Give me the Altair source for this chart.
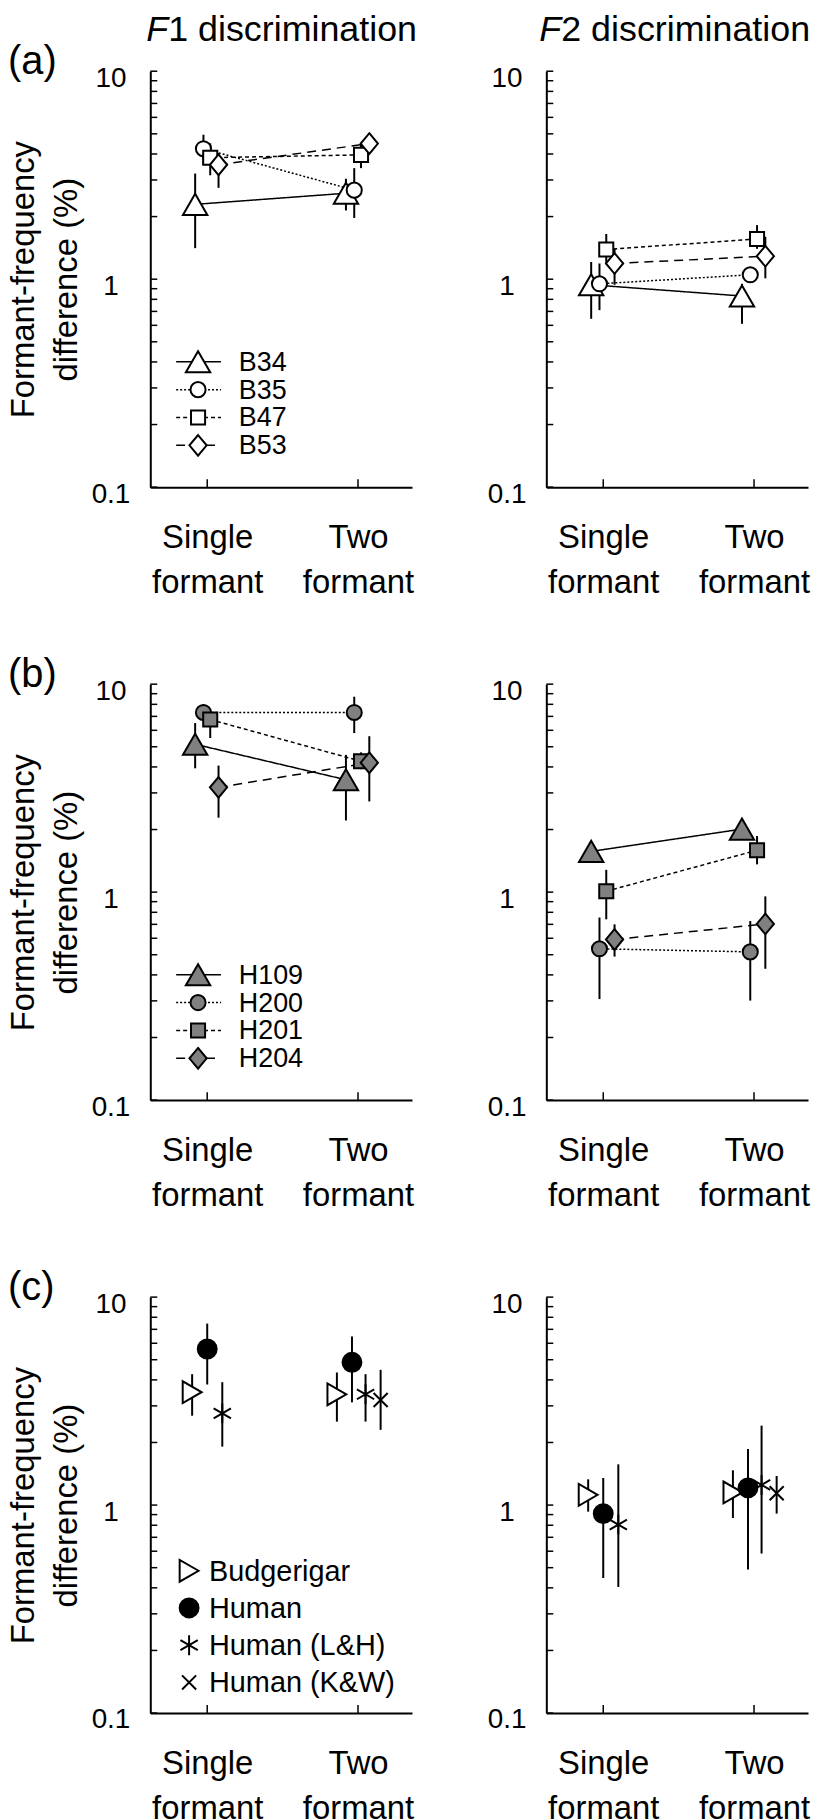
import altair as alt
import pandas as pd

FONT = "Liberation Sans"

# ---------------- data ----------------
conditions = ["Single formant", "Two formant"]
cond_pos = [1, 2]

budgies = ["B34", "B35", "B47", "B53"]
a_f1_single = [2.29, 4.24, 3.84, 3.55]
a_f1_single_lo = [1.41, 3.55, 3.16, 2.75]
a_f1_single_hi = [3.22, 4.95, 4.50, 3.99]
a_f1_two = [2.59, 2.68, 3.96, 4.49]
a_f1_two_lo = [2.14, 1.97, 3.42, 4.20]
a_f1_two_hi = [3.04, 3.42, 4.50, 4.80]

a_f2_single = [0.94, 0.95, 1.39, 1.19]
a_f2_single_lo = [0.645, 0.71, 1.20, 0.94]
a_f2_single_hi = [1.21, 1.19, 1.65, 1.40]
a_f2_two = [0.83, 1.05, 1.56, 1.29]
a_f2_two_lo = [0.61, 0.98, 1.40, 1.01]
a_f2_two_hi = [0.95, 1.12, 1.82, 1.60]

humans = ["H109", "H200", "H201", "H204"]
b_f1_single = [5.14, 7.31, 6.76, 3.19]
b_f1_single_lo = [3.94, 6.60, 5.51, 2.28]
b_f1_single_hi = [6.50, 8.00, 7.60, 4.06]
b_f1_two = [3.47, 7.31, 4.26, 4.19]
b_f1_two_lo = [2.21, 5.82, 3.90, 2.73]
b_f1_two_hi = [4.57, 8.70, 4.70, 5.62]

b_f2_single = [1.57, 0.534, 1.01, 0.592]
b_f2_single_lo = [1.45, 0.306, 0.74, 0.49]
b_f2_single_hi = [1.70, 0.755, 1.28, 0.70]
b_f2_two = [2.01, 0.516, 1.59, 0.703]
b_f2_two_lo = [1.85, 0.301, 1.36, 0.428]
b_f2_two_hi = [2.20, 0.726, 1.86, 0.954]

groups = ["Budgerigar", "Human", "Human (L&H)", "Human (K&W)"]
c_f1_single = [3.49, 5.63, 2.76, None]
c_f1_single_lo = [2.69, 3.80, 1.91, None]
c_f1_single_hi = [4.26, 7.46, 3.90, None]
c_f1_two = [3.41, 4.86, 3.41, 3.20]
c_f1_two_lo = [2.52, 3.12, 2.52, 2.30]
c_f1_two_hi = [4.34, 6.47, 4.26, 4.47]

c_f2_single = [1.12, 0.91, 0.805, None]
c_f2_single_lo = [0.93, 0.446, 0.404, None]
c_f2_single_hi = [1.33, 1.35, 1.57, None]
c_f2_two = [1.15, 1.21, 1.25, 1.14]
c_f2_two_lo = [0.867, 0.49, 0.585, 0.91]
c_f2_two_hi = [1.47, 1.86, 2.41, 1.38]

# horizontal jitter of the symbols around each condition (condition units)
indiv_jitter = [-0.08, -0.025, 0.02, 0.075]
group_jitter_single = [-0.10, 0.0, 0.10, 0.0]
group_jitter_two = [-0.14, -0.04, 0.05, 0.15]

# ---------------- styles ----------------
W, H = 263, 418
DIAMOND = "M0,-1.2L1,0L0,1.2L-1,0Z"
ASTER = "M0,-1L0,1M-0.87,-0.5L0.87,0.5M-0.87,0.5L0.87,-0.5"
XMARK = "M-1,-1L1,1M-1,1L1,-1"


def indiv_styles(fill):
    return [
        dict(shape="triangle-up", size=600, fill=fill, dash=[1, 0]),
        dict(shape="circle", size=230, fill=fill, dash=[2, 2]),
        dict(shape="square", size=200, fill=fill, dash=[4, 3]),
        dict(shape=DIAMOND, size=300, fill=fill, dash=[9, 6]),
    ]


group_styles = [
    dict(shape="triangle-right", size=480, fill="white"),
    dict(shape="circle", size=360, fill="black"),
    dict(shape=ASTER, size=400, fill="transparent"),
    dict(shape=XMARK, size=200, fill="transparent"),
]

xscale = alt.Scale(domain=[0.6225, 2.358], nice=False, zero=False)
yscale = alt.Scale(type="log", domain=[0.1, 10], nice=False)
ytick_vals = [0.1 * k for k in range(1, 10)] + list(range(1, 10)) + [10]
one = pd.DataFrame({"d": [0]})

leg_ab = dict(y0=292, step=28, l0=26, l1=71, sx=48, tx=89, fs=27)
leg_c = dict(y0=275, step=37.4, l0=0, l1=0, sx=39, tx=59, fs=29)


def make_panel(names, styles, single, s_lo, s_hi, two, t_lo, t_hi,
               off_s, off_t, connect, is_left, tag=None, title_num=None, legend=None):
    xa = alt.Axis(values=cond_pos,
                  labelExpr="datum.value < 1.5 ? ['Single','formant'] : ['Two','formant']",
                  labelFont=FONT, labelFontSize=33, labelLineHeight=45,
                  labelBaseline="top", labelPadding=35, labelColor="black",
                  labelFlush=False, labelOverlap=False,
                  ticks=False, tickSize=0, grid=False,
                  domainColor="black", domainWidth=2)
    ykw = dict(values=[0.1, 1, 10],
               labelExpr="datum.value < 0.5 ? '0.1' : (datum.value < 5 ? '1' : '10')",
               labelFont=FONT, labelFontSize=28, labelAlign="center",
               labelBaseline="middle", labelPadding=40, labelOffset=7,
               labelColor="black", labelFlush=False, labelOverlap=False,
               ticks=False, tickSize=0, grid=False,
               domainColor="black", domainWidth=2)
    if is_left:
        ykw.update(titleFont=FONT, titleFontSize=33, titleFontWeight="normal",
                   titleColor="black", titleAngle=270, titleX=-117, titleY=H / 2,
                   titleAlign="center", titleBaseline="alphabetic",
                   titleLineHeight=43)
        ytitle = ["Formant-frequency", "difference (%)"]
    else:
        ytitle = None
    ya = alt.Axis(**ykw)

    def X(f):
        return alt.X(f, type="quantitative", scale=xscale, axis=xa, title=None)

    def Y(f):
        return alt.Y(f, type="quantitative", scale=yscale, axis=ya, title=ytitle)

    layers = []
    # inward ticks
    layers.append(alt.Chart(pd.DataFrame({"t": ytick_vals})).mark_rule(
        color="black", strokeWidth=1.5).encode(
        y=Y("t"), x=alt.value(0), x2=alt.value(7)))
    layers.append(alt.Chart(pd.DataFrame({"c": cond_pos})).mark_rule(
        color="black", strokeWidth=1.5).encode(
        x=X("c"), y=alt.value(H - 8), y2=alt.value(H)))

    frames = []
    for i, name in enumerate(names):
        rows = []
        for c, vals, lo, hi, off in ((cond_pos[0], single, s_lo, s_hi, off_s),
                                     (cond_pos[1], two, t_lo, t_hi, off_t)):
            if vals[i] is None:
                continue
            rows.append({"x": c + off[i], "v": vals[i], "lo": lo[i], "hi": hi[i]})
        frames.append(pd.DataFrame(rows))

    for df in frames:
        layers.append(alt.Chart(df).mark_rule(color="black", strokeWidth=2).encode(
            x=X("x"), y=Y("lo"), y2="hi"))
    if connect:
        for df, st in zip(frames, styles):
            layers.append(alt.Chart(df).mark_line(
                color="black", strokeWidth=1.5, strokeDash=st["dash"]).encode(
                x=X("x"), y=Y("v")))
    for df, st in zip(frames, styles):
        layers.append(alt.Chart(df).mark_point(
            filled=True, opacity=1, shape=st["shape"], size=st["size"],
            fill=st["fill"], stroke="black", strokeWidth=2).encode(
            x=X("x"), y=Y("v")))

    # in-plot legend
    if legend:
        for i, (name, st) in enumerate(zip(names, styles)):
            ly = legend["y0"] + i * legend["step"]
            if connect:
                layers.append(alt.Chart(one).mark_rule(
                    color="black", strokeWidth=1.5, strokeDash=st["dash"]).encode(
                    x=alt.value(legend["l0"]), x2=alt.value(legend["l1"]), y=alt.value(ly)))
            layers.append(alt.Chart(one).mark_point(
                filled=True, opacity=1, shape=st["shape"], size=st["size"],
                fill=st["fill"], stroke="black", strokeWidth=2).encode(
                x=alt.value(legend["sx"]), y=alt.value(ly)))
            layers.append(alt.Chart(one).mark_text(
                align="left", baseline="middle", font=FONT, fontSize=legend["fs"],
                color="black").encode(
                x=alt.value(legend["tx"]), y=alt.value(ly + 1), text=alt.value(name)))

    if tag:
        layers.append(alt.Chart(one).mark_text(
            align="left", baseline="middle", font=FONT, fontSize=40,
            color="black").encode(
            x=alt.value(-143), y=alt.value(-9), text=alt.value(tag)))
    if title_num:
        bx = 18 if is_left else 15
        layers.append(alt.Chart(one).mark_text(
            align="right", baseline="alphabetic", font=FONT, fontSize=36,
            fontStyle="italic", color="black").encode(
            x=alt.value(bx), y=alt.value(-30), text=alt.value("F")))
        layers.append(alt.Chart(one).mark_text(
            align="left", baseline="alphabetic", font=FONT, fontSize=36,
            color="black").encode(
            x=alt.value(bx), y=alt.value(-30),
            text=alt.value(title_num + " discrimination")))

    return alt.layer(*layers).properties(width=W, height=H)


pa1 = make_panel(budgies, indiv_styles("white"), a_f1_single, a_f1_single_lo, a_f1_single_hi,
                 a_f1_two, a_f1_two_lo, a_f1_two_hi, indiv_jitter, indiv_jitter,
                 True, True, "(a)", "1", leg_ab)
pa2 = make_panel(budgies, indiv_styles("white"), a_f2_single, a_f2_single_lo, a_f2_single_hi,
                 a_f2_two, a_f2_two_lo, a_f2_two_hi, indiv_jitter, indiv_jitter,
                 True, False, None, "2", None)
pb1 = make_panel(humans, indiv_styles("#808080"), b_f1_single, b_f1_single_lo, b_f1_single_hi,
                 b_f1_two, b_f1_two_lo, b_f1_two_hi, indiv_jitter, indiv_jitter,
                 True, True, "(b)", None, leg_ab)
pb2 = make_panel(humans, indiv_styles("#808080"), b_f2_single, b_f2_single_lo, b_f2_single_hi,
                 b_f2_two, b_f2_two_lo, b_f2_two_hi, indiv_jitter, indiv_jitter,
                 True, False)
pc1 = make_panel(groups, group_styles, c_f1_single, c_f1_single_lo, c_f1_single_hi,
                 c_f1_two, c_f1_two_lo, c_f1_two_hi, group_jitter_single, group_jitter_two,
                 False, True, "(c)", None, leg_c)
pc2 = make_panel(groups, group_styles, c_f2_single, c_f2_single_lo, c_f2_single_hi,
                 c_f2_two, c_f2_two_lo, c_f2_two_hi, group_jitter_single, group_jitter_two,
                 False, False)

chart = alt.concat(pa1, pa2, pb1, pb2, pc1, pc2, columns=2,
                   spacing={"row": 198, "column": 135}, bounds="flush").properties(
    padding=0, background="white").configure_view(stroke=None)

chart.save("out.html", embed_options={"renderer": "svg", "actions": False})
